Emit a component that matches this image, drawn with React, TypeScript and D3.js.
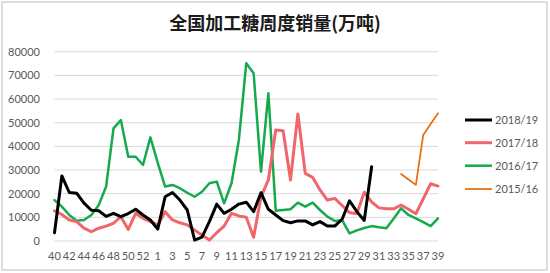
import React from "react";
import * as d3 from "d3";

const weeks: number[] = [40, 41, 42, 43, 44, 45, 46, 47, 48, 49, 50, 51, 52, 53,
  1, 2, 3, 4, 5, 6, 7, 8, 9, 10, 11, 12, 13, 14, 15, 16, 17, 18, 19, 20,
  21, 22, 23, 24, 25, 26, 27, 28, 29, 30, 31, 32, 33, 34, 35, 36, 37, 38, 39];

const yTicks: number[] = [0, 10000, 20000, 30000, 40000, 50000, 60000, 70000, 80000];

const s1819: (number | null)[] = [
  3500, 27500, 20500, 20200, 16000, 13000, 12800, 10400, 11700, 10300, 11600, 13400, 11000, 8900,
  5000, 18700, 20500, 17300, 13100, 400, 1600, 8200, 15600, 11700, 13400, 15600, 16400, 12400,
  20400, 13400, 11000, 8600, 7700, 8500, 8500, 6800, 8200, 6300, 6300, 9200, 17000, 12400, 8700, 31400,
  null, null, null, null, null, null, null, null, null];

const s1718: (number | null)[] = [
  12800, 11200, 8900, 8200, 5400, 3900, 5400, 6300, 7500, 10300, 4900, 11700, 9600, 8200,
  6800, 12400, 8900, 7700, 6800, 4600, 2500, 400, 3500, 6300, 11700, 10600, 10000, 1600,
  18700, 25800, 46900, 46600, 25800, 53700, 28600, 26900, 21600, 17300, 18000, 15000, 12000, 11500,
  20600, 16500, 14000, 13600, 13600, 15200, 13400, 11500, 17800, 24200, 23200];

const s1617: (number | null)[] = [
  17300, 14500, 11000, 8600, 8900, 11000, 15200, 23000, 47600, 51100, 35600, 35600, 32100, 43800,
  33000, 23000, 23700, 22300, 20400, 18700, 20800, 24400, 25100, 15900, 24400, 42700, 75100, 70900,
  29300, 62400, 12800, 13100, 13400, 16200, 14500, 16200, 13100, 10300, 8500, 8800, 3200, 4500,
  5500, 6300, 5800, 5400, 9500, 13800, 11000, 9600, 8000, 6300, 9600];

const s1516: (number | null)[] = [
  null, null, null, null, null, null, null, null, null, null, null, null, null, null,
  null, null, null, null, null, null, null, null, null, null, null, null, null, null,
  null, null, null, null, null, null, null, null, null, null, null, null, null, null,
  null, null, null, null, null, 28300, 26000, 23700, 44800, 49400, 54000];

const seriesNames: string[] = ["2018/19", "2017/18", "2016/17", "2015/16"];
const seriesColors: string[] = ["#000000", "#F0666B", "#17A94E", "#E4700F"];
const seriesWidths: number[] = [3, 3, 2.5, 1.75];

const title = "全国加工糖周度销量(万吨)";

export default function App() {
  const W = 550, H = 273;
  const idx = weeks.map((_, i) => String(i));
  const x = d3.scalePoint<string>().domain(idx).range([54.5, 438]);
  const y = d3.scaleLinear().domain([0, 80000]).range([241, 51.7]);
  const data = [s1819, s1718, s1617, s1516];

  const line = d3.line<number | null>()
    .defined((d) => d != null)
    .x((_, i) => x(String(i)) as number)
    .y((d) => y(d as number));

  const font = "Lato, 'Open Sans', sans-serif";
  const drawOrder = [3, 2, 1, 0];
  const legendY = [120, 142.7, 165.7, 189];

  return (
    <svg width={W} height={H} style={{ position: "absolute", left: 0, top: 0 }}>
      <rect x={0} y={0} width={W} height={H} fill="#ffffff" />
      <rect x={2} y={2} width={545} height={268} fill="#ffffff" stroke="#c8c8c8" strokeWidth={1.2} />
      <text x={275} y={30} textAnchor="middle" fontFamily="'Noto Sans CJK SC', serif" fontWeight="bold" fontSize={18} fill="#1a1a1a">
        {title}
      </text>
      {yTicks.map((t) => (
        <g key={t}>
          <line x1={54.5} x2={438} y1={y(t)} y2={y(t)} stroke="#d9d9d9" strokeWidth={1} />
          <text x={40} y={y(t)} dy="0.35em" textAnchor="end" fontFamily={font} fontSize={11} fill="#595959">
            {t}
          </text>
        </g>
      ))}
      {weeks.map((w, i) =>
        i % 2 === 0 ? (
          <text key={i} x={x(String(i)) as number} y={260} textAnchor="middle" fontFamily={font} fontSize={11} fill="#595959">
            {w}
          </text>
        ) : null
      )}
      {drawOrder.map((k) => (
        <path key={k} d={line(data[k]) || ""} fill="none" stroke={seriesColors[k]} strokeWidth={seriesWidths[k]} strokeLinejoin="round" strokeLinecap="round" />
      ))}
      {seriesNames.map((n, k) => (
        <g key={n}>
          <line x1={465} x2={492} y1={legendY[k]} y2={legendY[k]} stroke={seriesColors[k]} strokeWidth={seriesWidths[k]} />
          <text x={495} y={legendY[k]} dy="0.35em" fontFamily={font} fontSize={11} fill="#595959">
            {n}
          </text>
        </g>
      ))}
    </svg>
  );
}
